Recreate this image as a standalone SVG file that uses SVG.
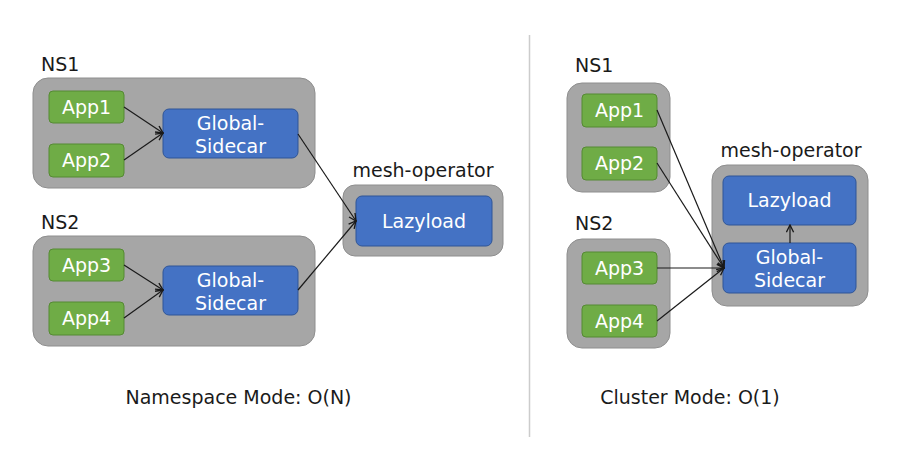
<svg xmlns="http://www.w3.org/2000/svg" width="912" height="466" viewBox="0 0 912 466">
<defs>
<style>
.ctr{fill:#a6a6a6;stroke:#8e8e8e;stroke-width:1}
.app{fill:#6fac46;stroke:#558a33;stroke-width:1}
.blu{fill:#4472c4;stroke:#2f5597;stroke-width:1}
.wt{fill:#ffffff;font-family:"DejaVu Sans",sans-serif;font-size:19px;text-anchor:middle}
.lb{fill:#1a1a1a;font-family:"DejaVu Sans",sans-serif;font-size:19px}
.cn{fill:none;stroke:#1a1a1a;stroke-width:1.2;marker-end:url(#ah)}
</style>
<marker id="ah" viewBox="0 0 10 10" refX="9" refY="5" markerWidth="9" markerHeight="9" markerUnits="userSpaceOnUse" orient="auto">
<path d="M1,1 L9,5 L1,9" fill="none" stroke="#1a1a1a" stroke-width="1.5"/>
</marker>
</defs>
<rect width="912" height="466" fill="#ffffff"/>
<line x1="529.5" y1="35" x2="529.5" y2="437" stroke="#cccccc" stroke-width="1.5"/>

<g id="left-ns1">
<text class="lb" x="41" y="71">NS1</text>
<rect class="ctr" x="33" y="78" width="282" height="110" rx="15"/>
</g>
<g id="left-app1"><rect class="app" x="49" y="91" width="75" height="32" rx="4"/><text class="wt" x="86.5" y="114">App1</text></g>
<g id="left-app2"><rect class="app" x="49" y="144" width="75" height="33" rx="4"/><text class="wt" x="86.5" y="167">App2</text></g>
<g id="left-gs1"><rect class="blu" x="163" y="109" width="135" height="49" rx="6"/><text class="wt" x="230.5" y="130">Global-</text><text class="wt" x="230.5" y="153">Sidecar</text></g>

<g id="left-ns2">
<text class="lb" x="41" y="229">NS2</text>
<rect class="ctr" x="33" y="236" width="282" height="110" rx="15"/>
</g>
<g id="left-app3"><rect class="app" x="49" y="249" width="75" height="32" rx="4"/><text class="wt" x="86.5" y="272">App3</text></g>
<g id="left-app4"><rect class="app" x="49" y="302" width="75" height="33" rx="4"/><text class="wt" x="86.5" y="325">App4</text></g>
<g id="left-gs2"><rect class="blu" x="163" y="266" width="135" height="49" rx="6"/><text class="wt" x="230.5" y="287">Global-</text><text class="wt" x="230.5" y="310">Sidecar</text></g>

<g id="left-mesh">
<text class="lb" x="423" y="177" text-anchor="middle">mesh-operator</text>
<rect class="ctr" x="343" y="185" width="160" height="71" rx="12"/>
</g>
<g id="left-lazy"><rect class="blu" x="356" y="196" width="136" height="50" rx="6"/><text class="wt" x="424" y="228">Lazyload</text></g>

<g id="right-ns1">
<text class="lb" x="575" y="72">NS1</text>
<rect class="ctr" x="567" y="83" width="103" height="109" rx="15"/>
</g>
<g id="right-app1"><rect class="app" x="582" y="94" width="75" height="33" rx="4"/><text class="wt" x="619.5" y="117">App1</text></g>
<g id="right-app2"><rect class="app" x="582" y="147" width="75" height="33" rx="4"/><text class="wt" x="619.5" y="170">App2</text></g>

<g id="right-ns2">
<text class="lb" x="575" y="230">NS2</text>
<rect class="ctr" x="567" y="239" width="103" height="109" rx="15"/>
</g>
<g id="right-app3"><rect class="app" x="582" y="252" width="75" height="32" rx="4"/><text class="wt" x="619.5" y="275">App3</text></g>
<g id="right-app4"><rect class="app" x="582" y="305" width="75" height="32" rx="4"/><text class="wt" x="619.5" y="328">App4</text></g>

<g id="right-mesh">
<text class="lb" x="791" y="157" text-anchor="middle">mesh-operator</text>
<rect class="ctr" x="712" y="165" width="156" height="141" rx="15"/>
</g>
<g id="right-lazy"><rect class="blu" x="723" y="176" width="133" height="49" rx="6"/><text class="wt" x="789.5" y="207">Lazyload</text></g>
<g id="right-gs"><rect class="blu" x="723" y="243" width="133" height="50" rx="6"/><text class="wt" x="789.5" y="264">Global-</text><text class="wt" x="789.5" y="287">Sidecar</text></g>

<g id="connectors">
<line class="cn" x1="124" y1="107" x2="163" y2="133"/>
<line class="cn" x1="124" y1="160" x2="163" y2="133"/>
<line class="cn" x1="124" y1="265" x2="163" y2="290"/>
<line class="cn" x1="124" y1="318" x2="163" y2="290"/>
<line class="cn" x1="298" y1="134" x2="356" y2="221"/>
<line class="cn" x1="298" y1="290" x2="356" y2="221"/>
<line class="cn" x1="657" y1="110" x2="724" y2="268"/>
<line class="cn" x1="657" y1="163" x2="724" y2="268"/>
<line class="cn" x1="657" y1="268" x2="724" y2="268"/>
<line class="cn" x1="657" y1="321" x2="724" y2="268"/>
<line class="cn" x1="790" y1="243" x2="790" y2="225"/>
</g>

<text class="lb" x="238.5" y="404" text-anchor="middle">Namespace Mode: O(N)</text>
<text class="lb" x="690" y="404" text-anchor="middle">Cluster Mode: O(1)</text>
</svg>
